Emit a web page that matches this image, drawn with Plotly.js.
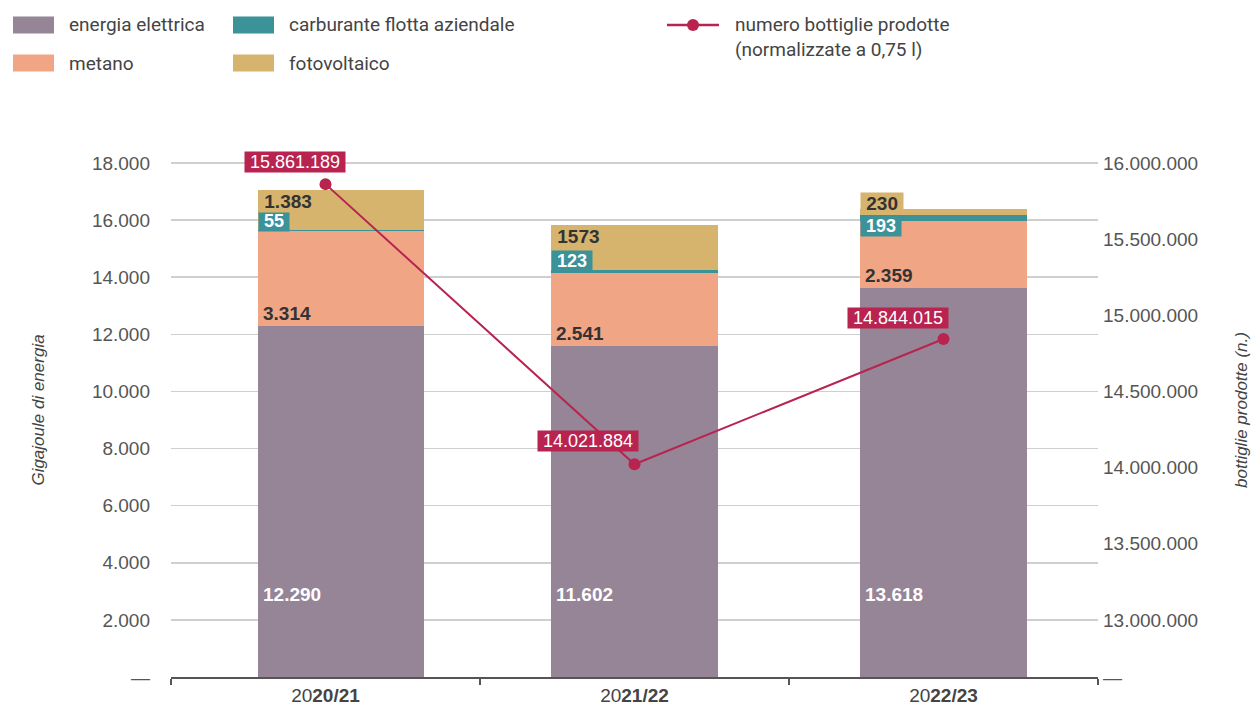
<!DOCTYPE html>
<html>
<head>
<meta charset="utf-8">
<script src="https://cdn.plot.ly/plotly-3.0.1.min.js"></script>
<style>html,body{margin:0;padding:0;background:#fff;}#chart{width:1256px;height:707px;}</style>
</head>
<body>
<div id="chart"></div>
<script>
// ---- data ----
const categories = ['2020/21', '2021/22', '2022/23'];
const categoryTickText = ['20<b>20/21</b>', '20<b>21/22</b>', '20<b>22/23</b>'];
const energiaElettrica = [12290, 11602, 13618];
const metano = [3314, 2541, 2359];
const carburante = [55, 123, 193];
const fotovoltaico = [1383, 1573, 230];
const bottiglie = [15861189, 14021884, 14844015];
const energiaLabels = ['12.290', '11.602', '13.618'];
const metanoLabels = ['3.314', '2.541', '2.359'];
const carburanteLabels = ['55', '123', '193'];
const fotovoltaicoLabels = ['1.383', '1573', '230'];
const bottiglieLabels = ['15.861.189', '14.021.884', '14.844.015'];
const leftTickVals = [0, 2000, 4000, 6000, 8000, 10000, 12000, 14000, 16000, 18000];
const leftTickText = ['—', '2.000', '4.000', '6.000', '8.000', '10.000', '12.000', '14.000', '16.000', '18.000'];
const rightTickVals = [12625000, 13000000, 13500000, 14000000, 14500000, 15000000, 15500000, 16000000];
const rightTickText = ['—', '13.000.000', '13.500.000', '14.000.000', '14.500.000', '15.000.000', '15.500.000', '16.000.000'];
const seriesNames = ['energia elettrica', 'metano', 'carburante flotta aziendale', 'fotovoltaico'];
const lineName = 'numero bottiglie prodotte<br>(normalizzate a 0,75 l)';

// ---- style ----
const C_EN = '#968597', C_ME = '#F0A585', C_CA = '#3B9299', C_FO = '#D6B46E', C_LINE = '#B8234F';
const seriesColors = [C_EN, C_ME, C_CA, C_FO];
const DARK = '#333333';
const BASE_FONT = 'Liberation Sans, Arial, sans-serif';
const LEG_FONT = 'Roboto, Liberation Sans, sans-serif';
const BAR_W = 0.54;
const BAR_OFFSET = [-0.22, -0.27, -0.27];
const LEFT_MAX = 18700;
const RIGHT_MIN = 12625000, RIGHT_SCALE = 187.5;
const M = {l: 171, r: 158, t: 143, b: 30};
const PW = 1256 - M.l - M.r, PH = 707 - M.t - M.b;
const px = x => (x - M.l) / PW;      // pixel -> paper x
const py = y => (707 - M.b - y) / PH; // pixel -> paper y
const pad = s => '&nbsp;' + s + '&nbsp;';

const seriesValues = [energiaElettrica, metano, carburante, fotovoltaico];
const traces = seriesValues.map((vals, k) => ({
  type: 'bar', name: seriesNames[k], x: categories, y: vals, marker: {color: seriesColors[k]},
  width: BAR_W, offset: BAR_OFFSET, hoverinfo: 'skip', showlegend: false
}));
traces.push({type: 'scatter', mode: 'lines+markers', name: lineName, x: categories, y: bottiglie, yaxis: 'y2',
  line: {color: C_LINE, width: 2}, marker: {color: C_LINE, size: 12}, hoverinfo: 'skip', showlegend: false});

const annotations = [];
const shapes = [];
const labelFont = {family: BASE_FONT, size: 19, color: DARK, weight: 'bold'};
const carbAnchor = ['bottom', 'bottom', 'top'];
const carbShift = [-2, -2, 0];
const fotoAnchor = ['top', 'top', 'bottom'];
const lineShift = [[-31, 22], [-47, 23], [-46, 21]];
for (let i = 0; i < categories.length; i++) {
  const left = i + BAR_OFFSET[i];
  const c1 = energiaElettrica[i];
  const c2 = c1 + metano[i];
  const c3 = c2 + carburante[i];
  const c4 = c3 + fotovoltaico[i];
  annotations.push({x: left, y: 0, xref: 'x', yref: 'y', text: '<b>' + energiaLabels[i] + '</b>', showarrow: false,
    xanchor: 'left', yanchor: 'bottom', xshift: 3, yshift: 70, font: Object.assign({}, labelFont, {color: '#ffffff'})});
  annotations.push({x: left, y: c1, xref: 'x', yref: 'y', text: '<b>' + metanoLabels[i] + '</b>', showarrow: false,
    xanchor: 'left', yanchor: 'bottom', xshift: 3, yshift: 0, font: labelFont});
  annotations.push({x: left, y: c3, xref: 'x', yref: 'y', text: pad('<b>' + carburanteLabels[i] + '</b>'), showarrow: false,
    xanchor: 'left', yanchor: carbAnchor[i], xshift: 0, yshift: carbShift[i], bgcolor: C_CA, borderpad: 0,
    font: Object.assign({}, labelFont, {color: '#ffffff', size: 18})});
  annotations.push({x: left, y: fotoAnchor[i] === 'top' ? c4 : c3, xref: 'x', yref: 'y', text: pad('<b>' + fotovoltaicoLabels[i] + '</b>'), showarrow: false,
    xanchor: 'left', yanchor: fotoAnchor[i], xshift: 0, yshift: 0, bgcolor: C_FO, borderpad: 0, font: labelFont});
  annotations.push({x: i, y: bottiglie[i], xref: 'x', yref: 'y2', text: pad(bottiglieLabels[i]), showarrow: false,
    xanchor: 'center', yanchor: 'middle', xshift: lineShift[i][0], yshift: lineShift[i][1], bgcolor: C_LINE, borderpad: 0,
    font: {family: BASE_FONT, size: 18, color: '#ffffff'}});
}

// ---- legend (drawn in the top margin) ----
const legFont = {family: LEG_FONT, size: 19, color: '#444444'};
const legItems = [
  {k: 0, sx: 13, sy: 25, tx: 67},
  {k: 1, sx: 13, sy: 63, tx: 67},
  {k: 2, sx: 233, sy: 25, tx: 287},
  {k: 3, sx: 233, sy: 63, tx: 287}
];
legItems.forEach(it => {
  shapes.push({type: 'rect', xref: 'paper', yref: 'paper', x0: px(it.sx), x1: px(it.sx + 41), y0: py(it.sy - 8.5), y1: py(it.sy + 8.5),
    fillcolor: seriesColors[it.k], line: {width: 0}, layer: 'above'});
  annotations.push({xref: 'paper', yref: 'paper', x: px(it.tx), y: py(it.sy), xanchor: 'left', yanchor: 'middle',
    text: seriesNames[it.k], showarrow: false, font: legFont});
});
shapes.push({type: 'line', xref: 'paper', yref: 'paper', x0: px(667), x1: px(719), y0: py(25), y1: py(25),
  line: {color: C_LINE, width: 2.5}, layer: 'above'});
shapes.push({type: 'circle', xref: 'paper', yref: 'paper', x0: px(687), x1: px(699), y0: py(31), y1: py(19),
  fillcolor: C_LINE, line: {width: 0}, layer: 'above'});
annotations.push({xref: 'paper', yref: 'paper', x: px(733), y: py(11), xanchor: 'left', yanchor: 'top', align: 'left',
  text: lineName, showarrow: false, font: legFont});

const layout = {
  width: 1256, height: 707,
  margin: {l: M.l, r: M.r, t: M.t, b: M.b, pad: 0},
  paper_bgcolor: '#ffffff', plot_bgcolor: '#ffffff',
  barmode: 'stack',
  showlegend: false,
  xaxis: {type: 'category', range: [-0.5, 2.5], tickmode: 'array', tickvals: categories, ticktext: categoryTickText,
    tickson: 'boundaries', ticks: 'outside', ticklen: 6, tickwidth: 1.5, tickcolor: '#555555',
    showline: true, linecolor: '#555555', linewidth: 2, showgrid: false, zeroline: false, automargin: false,
    tickfont: {family: BASE_FONT, size: 19, color: '#444444'}, fixedrange: true},
  yaxis: {range: [0, LEFT_MAX], tickmode: 'array', tickvals: leftTickVals, ticktext: leftTickText, automargin: false,
    showgrid: true, gridcolor: '#cfcfcf', gridwidth: 1.5, zeroline: false, showline: false, ticks: '',
    ticklabelstandoff: 20, tickfont: {family: BASE_FONT, size: 19, color: '#555555'},
    title: {text: 'Gigajoule di energia', standoff: 42, font: {family: BASE_FONT, size: 17, color: '#444444', style: 'italic'}}, fixedrange: true},
  yaxis2: {overlaying: 'y', side: 'right', range: [RIGHT_MIN, RIGHT_MIN + RIGHT_SCALE * LEFT_MAX], tickmode: 'array', automargin: false,
    tickvals: rightTickVals, ticktext: rightTickText, showgrid: false, zeroline: false, showline: false, ticks: '',
    ticklabelstandoff: 4, tickfont: {family: BASE_FONT, size: 19, color: '#555555'},
    title: {text: 'bottiglie prodotte (n.)', standoff: 38, font: {family: BASE_FONT, size: 17, color: '#444444', style: 'italic'}}, fixedrange: true},
  annotations: annotations,
  shapes: shapes
};

Plotly.newPlot('chart', traces, layout, {displayModeBar: false, staticPlot: true});
</script>
</body>
</html>
